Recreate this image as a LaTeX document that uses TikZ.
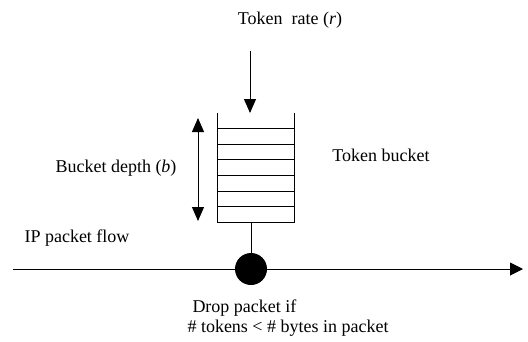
\documentclass[tikz,border=0pt]{standalone}
\usepackage{fontspec}
\setmainfont{Liberation Serif}
\usetikzlibrary{arrows.meta}
\usetikzlibrary{positioning}

\begin{document}
\begin{tikzpicture}[x=1pt,y=-1pt,line width=1pt,
    >={Triangle[width=12pt,length=14pt]},
    every node/.style={font=\fontsize{18}{20}\selectfont,inner sep=0pt}]
\useasboundingbox (0,0) rectangle (528,341);

% bucket
\coordinate (BTL) at (217,113);
\coordinate (BTR) at (294,113);
\coordinate (BBL) at (217,222);
\coordinate (BBR) at (294,222);
\coordinate (BBot) at (251,222);
\draw (BTL) -- (BBL) -- (BBR) -- (BTR);
\foreach \y in {128,144,159.5,175,191,206.5}
    \draw (217,\y) -- (294,\y);

% labels
\node (rate) at (290,20) {Token\ \ rate (\textit{r})};
\node (tb) at (381,155) {Token bucket};
\node (depth) at (116,168) {Bucket depth (\textit{b})};
\node (flow) at (77,238) {IP packet flow};
\node[anchor=west] (drop) at (192,308) {Drop packet if};
\node[anchor=west] (cond) at (187,328) {\# tokens < \# bytes in packet};

% arrows
\coordinate (rin) at (250,51);
\coordinate (rout) at (250,113);
\draw[->] (rin) -- (rout);
\coordinate (dtop) at (198,118);
\coordinate (dbot) at (198,221);
\draw[<->] (dtop) -- (dbot);

% packet flow
\coordinate (fin) at (13,269);
\coordinate (fout) at (523,269);
\node[circle,fill=black,minimum size=32pt] (gate) at (251,269) {};
\draw[->,>={Triangle[width=13pt,length=13pt]}] (fin) -- (fout);
\draw (BBot) -- (gate.north);
\end{tikzpicture}
\end{document}
